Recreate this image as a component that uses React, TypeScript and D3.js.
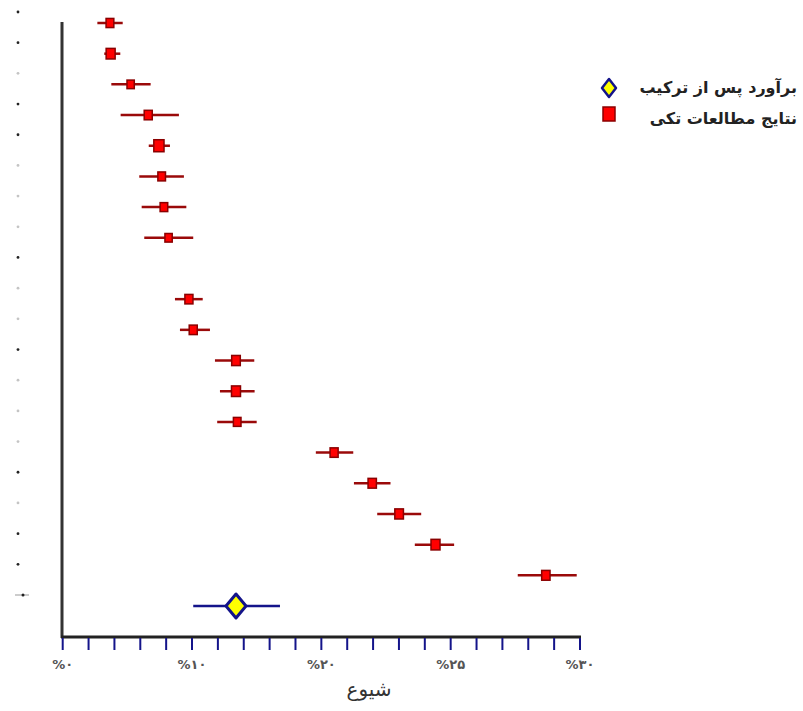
import React from "react";
import * as d3 from "d3";

// Study-level prevalence estimates (%), in plot order (one study row has no estimate)
const estimates: (number | null)[] = [2.74, 2.78, 3.94, 4.96, 5.58, 5.74, 5.87, 6.14, null, 7.32, 7.57, 10.05, 10.05, 10.12, 15.74, 17.95, 19.51, 21.62, 28.02];
const lowerCI: (number | null)[] = [2.01, 2.41, 2.82, 3.36, 4.99, 4.44, 4.58, 4.73, null, 6.51, 6.8, 8.83, 9.12, 8.96, 14.68, 16.89, 18.24, 20.42, 26.39];
const upperCI: (number | null)[] = [3.48, 3.34, 5.1, 6.74, 6.22, 7.03, 7.17, 7.57, null, 8.12, 8.54, 11.11, 11.13, 11.25, 16.85, 19.01, 20.79, 22.7, 29.81];
const weights: (number | null)[] = [5.2, 7.0, 4.6, 5.6, 9.0, 5.0, 5.0, 4.6, null, 5.6, 5.6, 6.4, 7.0, 5.0, 5.6, 6.0, 6.4, 7.0, 6.0];

// Pooled estimate
const pooledEstimate = 10.05;
const pooledLower = 7.57;
const pooledUpper = 12.6;

// Axis
const xDomain = [0, 30];
const tickStep = 1.5;
const labelValues = [0, 7.5, 15, 22.5, 30];
const labelTexts = ["%۰", "%۱۰", "%۲۰", "%۲۵", "%۳۰"];
const xTitle = "شیوع";

// Legend
const legendPooled = "برآورد پس از ترکیب";
const legendStudies = "نتایج مطالعات تکی";

// Faint study-label remnants on the left (true = dark dot)
const labelDark = [true, true, false, true, true, false, false, false, true, false, false, true, false, false, false, true, false, true, true];

const FONT = "'DejaVu Sans', 'Noto Sans', sans-serif";

export default function App() {
  const W = 803, H = 711;
  const x = d3.scaleLinear().domain(xDomain).range([62.7, 580]);
  const nRows = estimates.length + 1;
  const y = d3.scalePoint<number>().domain(d3.range(nRows)).range([23, 606]);
  const size = d3.scaleSqrt().domain([0, 9]).range([0, 12]);
  const axisY = 637;
  const ticks = d3.range(xDomain[0], xDomain[1] + 0.001, tickStep);
  const lineRed = "#9a0a0a";
  const navy = "#14148a";
  const pooledRow = nRows - 1;
  const py = y(pooledRow)!;
  const px = x(pooledEstimate);

  return (
    <svg width={W} height={H} style={{ position: "absolute", left: 0, top: 0, background: "#fff" }}>
      {/* left label remnants */}
      {labelDark.map((d, i) => (
        <circle key={"lbl" + i} cx={18} cy={y(i)! - 11} r={1.4} fill={d ? "#222" : "#c4c4c4"} />
      ))}
      <line x1={15} x2={29} y1={py - 11} y2={py - 11} stroke="#999" strokeWidth={1} />
      <circle cx={23} cy={py - 11} r={1.5} fill="#222" />

      {/* axes */}
      <line x1={62} x2={62} y1={22} y2={axisY + 1} stroke="#333" strokeWidth={3} />
      <line x1={61} x2={581} y1={axisY} y2={axisY} stroke="#222" strokeWidth={3} />
      {ticks.map((t, i) => (
        <line key={"t" + i} x1={x(t)} x2={x(t)} y1={axisY + 1} y2={axisY + 13} stroke={navy} strokeWidth={2} />
      ))}
      {labelValues.map((v, i) => (
        <text key={"lab" + i} x={x(v)} y={665} textAnchor="middle" dominantBaseline="middle" fontFamily={FONT} fontSize={13} fontWeight="bold" fill="#555" direction="ltr" letterSpacing={1.5}>
          {labelTexts[i]}
        </text>
      ))}
      <text x={369} y={690} textAnchor="middle" dominantBaseline="middle" fontFamily={FONT} fontSize={20} fill="#333">
        {xTitle}
      </text>

      {/* studies */}
      {estimates.map((e, i) => {
        if (e == null) return null;
        const yy = y(i)!;
        const s = size(weights[i] as number);
        return (
          <g key={"s" + i}>
            <line x1={x(lowerCI[i] as number)} x2={x(upperCI[i] as number)} y1={yy} y2={yy} stroke={lineRed} strokeWidth={2.5} />
            <rect x={x(e) - (s * 0.85) / 2} y={yy - s / 2} width={s * 0.85} height={s} fill="#f00" stroke="#8a0000" strokeWidth={1.5} />
          </g>
        );
      })}

      {/* pooled */}
      <line x1={x(pooledLower)} x2={x(pooledUpper)} y1={py} y2={py} stroke={navy} strokeWidth={2.5} />
      <path d={`M${px},${py - 12} L${px + 10},${py} L${px},${py + 12} L${px - 10},${py} Z`} fill="#ffff00" stroke={navy} strokeWidth={3} strokeLinejoin="round" />

      {/* legend */}
      <path d="M609,79 L616,88 L609,97 L602,88 Z" fill="#ffff00" stroke={navy} strokeWidth={2.5} strokeLinejoin="round" />
      <text x={797} y={88} textAnchor="end" dominantBaseline="middle" fontFamily={FONT} fontSize={16} fontWeight="bold" fill="#222">
        {legendPooled}
      </text>
      <rect x={603} y={107} width={12} height={14} fill="#f00" stroke="#8a0000" strokeWidth={1.5} />
      <text x={797} y={119} textAnchor="end" dominantBaseline="middle" fontFamily={FONT} fontSize={16} fontWeight="bold" fill="#222">
        {legendStudies}
      </text>
    </svg>
  );
}
